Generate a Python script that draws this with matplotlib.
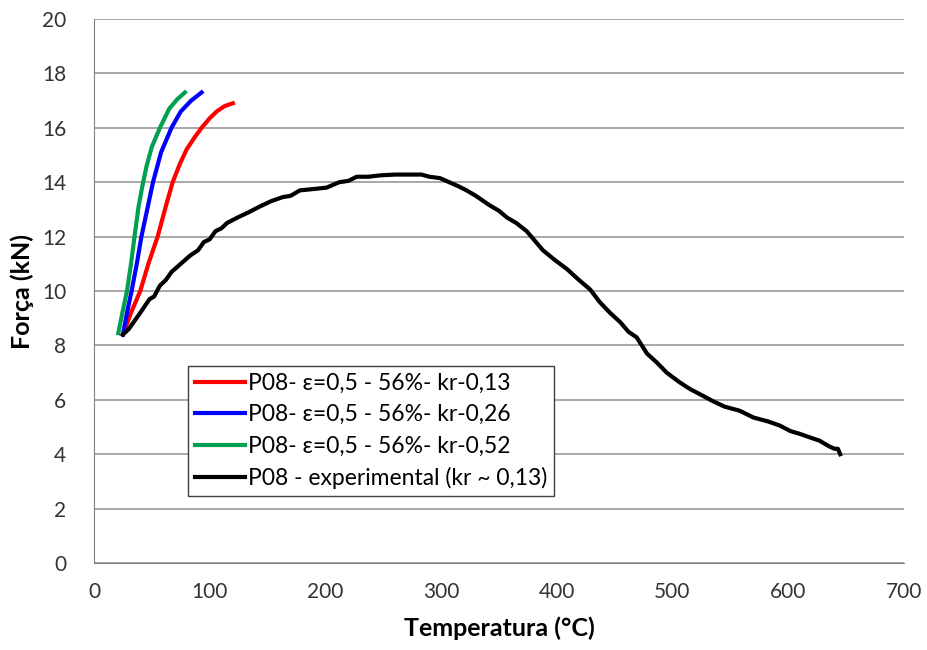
import matplotlib.pyplot as plt

# simulated curves (temperature in C, force in kN)
red_x = [25, 32, 40, 47, 55, 62, 68, 74, 80, 87, 93, 100, 106, 113, 120]
red_y = [8.4, 9.2, 10.0, 11.0, 12.0, 13.1, 14.0, 14.65, 15.2, 15.65, 16.0, 16.35, 16.6, 16.8, 16.9]
blue_x = [25, 29, 32.5, 37, 41, 46, 51, 58, 67, 75, 84, 93]
blue_y = [8.4, 9.3, 10.0, 11.0, 12.0, 13.0, 14.0, 15.1, 16.0, 16.6, 17.0, 17.3]
green_x = [21, 25, 28.5, 32, 35, 38.5, 42, 45.5, 50, 57, 65, 72, 78.6]
green_y = [8.45, 9.3, 10.0, 11.0, 12.0, 13.1, 13.9, 14.6, 15.3, 16.0, 16.7, 17.05, 17.3]

# experimental curve
exp_x = [25, 30, 35, 40, 48, 52, 57, 62, 67, 75, 83, 90, 95, 100, 105, 110, 115, 124,
         134, 143, 153, 163, 170, 178, 190, 201, 212, 220, 227, 237, 247, 260, 283,
         290, 299, 307, 315, 322, 330, 342, 350, 357, 365, 374, 381, 388, 398, 409,
         418, 429, 437, 446, 455, 462, 469, 478, 487, 495, 506, 515, 524, 535, 545,
         558, 570, 583, 593, 602, 610, 620, 627, 635, 640, 643, 645]
exp_y = [8.4, 8.6, 8.9, 9.2, 9.7, 9.8, 10.2, 10.4, 10.7, 11.0, 11.3, 11.5, 11.8, 11.9,
         12.2, 12.3, 12.5, 12.7, 12.9, 13.1, 13.3, 13.45, 13.5, 13.7, 13.75, 13.8, 14.0,
         14.05, 14.2, 14.2, 14.25, 14.28, 14.28, 14.2, 14.15, 14.0, 13.85, 13.7, 13.5,
         13.15, 12.95, 12.7, 12.5, 12.2, 11.85, 11.5, 11.15, 10.8, 10.45, 10.05, 9.6,
         9.2, 8.85, 8.5, 8.3, 7.7, 7.35, 7.0, 6.65, 6.4, 6.2, 5.95, 5.75, 5.6, 5.35,
         5.2, 5.05, 4.85, 4.75, 4.6, 4.5, 4.3, 4.2, 4.2, 4.0]

labels = ['P08- \u03b5=0,5 - 56%- kr-0,13',
          'P08- \u03b5=0,5 - 56%- kr-0,26',
          'P08- \u03b5=0,5 - 56%- kr-0,52',
          'P08 - experimental (kr ~ 0,13)']

plt.rcParams['font.family'] = ['Lato', 'DejaVu Sans']

fig = plt.figure(figsize=(9.27, 6.5), dpi=100)
ax = fig.add_axes([0.1014, 0.1338, 0.8736, 0.837])

ax.plot(red_x, red_y, color='#ff0000', lw=3, label=labels[0])
ax.plot(blue_x, blue_y, color='#0000ff', lw=3, label=labels[1])
ax.plot(green_x, green_y, color='#00a050', lw=3, label=labels[2])
ax.plot(exp_x, exp_y, color='black', lw=3, label=labels[3])

ax.set_xlim(0, 700)
ax.set_ylim(0, 20)
ax.set_xticks(range(0, 701, 100))
ax.set_yticks(range(0, 21, 2))
ax.grid(axis='y', color='#a0a0a0', linewidth=1.3)
ax.set_axisbelow(True)
ax.tick_params(length=0, labelsize=15, colors='#333333')
ax.tick_params(axis='y', pad=20)
ax.tick_params(axis='x', pad=14)
for s in ['top', 'right']:
    ax.spines[s].set_visible(False)
for s in ['left', 'bottom']:
    ax.spines[s].set_color('#808080')

ax.set_xlabel('Temperatura (\u00b0C)', fontsize=18, fontweight='bold', labelpad=10)
ax.set_ylabel('For\u00e7a (kN)', fontsize=18, fontweight='bold', labelpad=6)

leg = ax.legend(loc='upper left', bbox_to_anchor=(0.116, 0.362), fontsize=16.5,
                fancybox=False, framealpha=1, edgecolor='#404040',
                handlelength=2.2, handletextpad=0.1, borderpad=0.3,
                labelspacing=0.45, borderaxespad=0)
leg.get_frame().set_linewidth(1.0)

plt.savefig('out.png')
